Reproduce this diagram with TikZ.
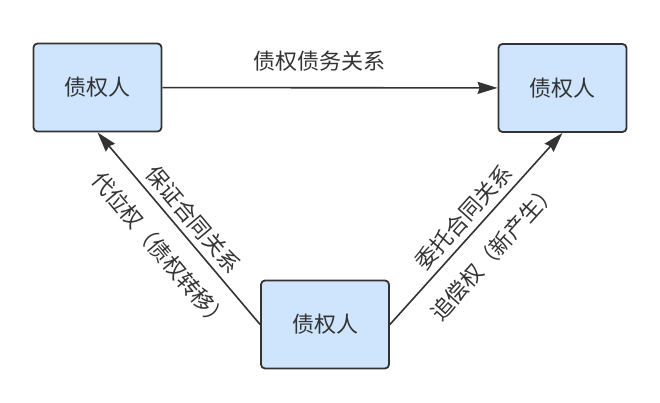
\documentclass[tikz,border=0pt]{standalone}
\usepackage{fontspec}
\usepackage{xcolor}
\usepackage{tikz}
\usetikzlibrary{arrows.meta,positioning,calc}
\newfontfamily\cjk{Noto Sans CJK SC}
\definecolor{boxblue}{RGB}{206,229,253}
\definecolor{inkgray}{RGB}{51,51,51}
\tikzset{party/.style={
  % The shape:
  rectangle,
  rounded corners=4pt,
  % The size:
  minimum width=128pt,
  minimum height=88pt,
  % The border:
  line width=1.8pt,
  draw=inkgray,
  % The filling:
  fill=boxblue,
  % Font:
  font=\cjk\fontsize{22pt}{26pt}\selectfont,
  text=inkgray,
  }
}
\tikzset{relation/.style={
  % The line:
  line width=1.6pt,
  draw=inkgray,
  % The tip:
  -{Stealth[length=20pt,width=12pt,inset=2pt]},
  }
}
\tikzset{tag/.style={
  inner sep=0pt,
  font=\cjk\fontsize{22pt}{26pt}\selectfont,
  text=inkgray,
  }
}

\begin{document}
\begin{tikzpicture}[x=1pt,y=1pt]
  \useasboundingbox (0,0) rectangle (660,403);
  % The three parties:
  \node (credL) [party] at (97.5,315.5) {债权人};
  \node (credR) [party] at (562.5,315)  {债权人};
  \node (debtor) [party] at (325,78.5)  {债权人};

  % The relations:
  \draw[relation] (credL) -- (credR)
        node [tag, midway, above=16pt, xshift=-11pt] {债权债务关系};
  \draw[relation] (debtor.west) -- (credL.south)
        node [tag, pos=0.49, sloped, above=6pt]  {保证合同关系}
        node [tag, pos=0.48, sloped, below=17pt] {代位权（债权转移）};
  \draw[relation] (debtor.east) -- (credR.south)
        node [tag, pos=0.5, sloped, above=6pt]  {委托合同关系}
        node [tag, pos=0.48, sloped, below=17pt] {追偿权（新产生）};
\end{tikzpicture}
\end{document}
